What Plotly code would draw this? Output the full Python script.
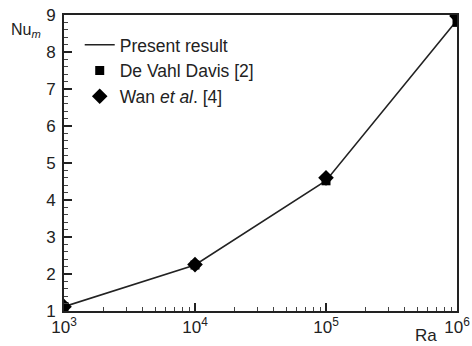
import plotly.graph_objects as go

ra = [1e3, 1e4, 1e5, 1e6]
present = [1.118, 2.245, 4.52, 8.86]
davis = [1.118, 2.243, 4.519, 8.800]
wan = [1.117, 2.254, 4.598, 8.976]
x_tickvals = [1e3, 1e4, 1e5, 1e6]
x_ticktext = ["10<sup>3</sup>", "10<sup>4</sup>", "10<sup>5</sup>", "10<sup>6</sup>"]
x_minor = [m * 10**e for e in (3, 4, 5) for m in range(2, 10)]
y_ticks = [1, 2, 3, 4, 5, 6, 7, 8, 9]

FONT = "Liberation Sans, Arial, sans-serif"
fig = go.Figure()
fig.add_trace(go.Scatter(x=ra, y=present, mode="lines", name="Present result",
                         line=dict(color="#222", width=1.6)))
fig.add_trace(go.Scatter(x=ra, y=davis, mode="markers", name="De Vahl Davis [2]",
                         marker=dict(symbol="square", size=9, color="black")))
fig.add_trace(go.Scatter(x=ra, y=wan, mode="markers", name="Wan <i>et al</i>. [4]",
                         marker=dict(symbol="diamond", size=12, color="black")))

fig.update_layout(
    width=472, height=346,
    margin=dict(l=64, r=15, t=15, b=35),
    paper_bgcolor="white", plot_bgcolor="white",
    font=dict(family=FONT, size=16, color="#222"),
    showlegend=True,
    legend=dict(x=0.04, y=0.96, xanchor="left", yanchor="top",
                bgcolor="rgba(0,0,0,0)", font=dict(size=17.5), itemwidth=30,
                tracegroupgap=0),
    xaxis=dict(type="log", range=[3, 6], tickvals=x_tickvals, ticktext=x_ticktext,
               ticks="inside", ticklen=8, tickwidth=1.5, tickcolor="#222",
               showline=True, linecolor="#222", linewidth=2, mirror=True,
               showgrid=False, zeroline=False, automargin=False,
               minor=dict(tickvals=x_minor, ticks="inside", ticklen=4, tickcolor="#444",
                          tickwidth=1, showgrid=False),
               tickfont=dict(size=17)),
    yaxis=dict(range=[1, 9], tickvals=y_ticks,
               ticks="inside", ticklen=8, tickwidth=1.5, tickcolor="#222",
               showline=True, linecolor="#222", linewidth=2, mirror=True,
               showgrid=False, zeroline=False, ticklabelstandoff=3, automargin=False,
               minor=dict(dtick=0.2, ticks="inside", ticklen=4, tickcolor="#444",
                          tickwidth=1, showgrid=False),
               tickfont=dict(size=17)),
)
fig.add_annotation(text="Nu<sub><i>m</i></sub>", xref="paper", yref="paper",
                   x=-0.097, y=0.949, xanchor="center", yanchor="middle",
                   showarrow=False, font=dict(size=16))
fig.add_annotation(text="Ra", xref="paper", yref="paper",
                   x=0.921, y=-0.084, xanchor="center", yanchor="middle",
                   showarrow=False, font=dict(size=17))
fig.write_html("out.html")
